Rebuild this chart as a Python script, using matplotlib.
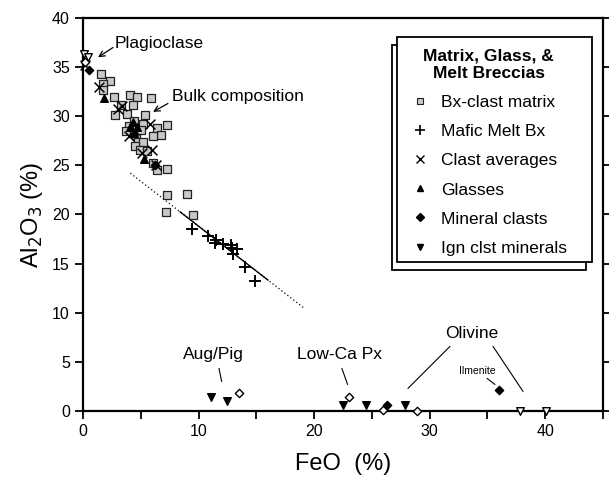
import numpy as np
import matplotlib
matplotlib.use("Agg")
import matplotlib.pyplot as plt
from matplotlib.lines import Line2D
from matplotlib.patches import Rectangle

plt.rcParams['font.family'] = ['Liberation Sans', 'DejaVu Sans']

# ---- data (FeO %, Al2O3 %) ----
bx_feo = [1.6, 2.3, 1.75, 1.7, 2.7, 4.1, 4.7, 5.9, 3.3, 4.35, 2.8, 3.8, 5.4, 5.2,
          6.4, 7.3, 6.75, 4.6, 4.8, 5.2, 4.5, 4.9, 5.5, 6.1, 6.4, 7.3, 7.3, 9.0,
          7.15, 9.5, 4.0, 3.7, 4.4, 5.0, 6.1]
bx_al = [34.3, 33.6, 33.3, 32.7, 32.0, 32.2, 32.0, 31.9, 31.1, 31.1, 30.1, 30.2, 30.1, 29.2,
         28.8, 29.1, 28.1, 28.1, 27.4, 27.4, 27.0, 26.6, 26.5, 25.2, 24.5, 24.6, 22.0, 22.1,
         20.3, 19.9, 29.0, 28.5, 29.5, 28.6, 28.0]

mafic_feo = [9.45, 10.85, 11.5, 11.4, 12.15, 12.8, 13.0, 13.35, 14.0, 14.9, 12.9]
mafic_al = [18.5, 17.8, 17.4, 17.1, 17.0, 16.9, 16.0, 16.5, 14.7, 13.2, 16.6]

clast_feo = [0.2, 3.4, 3.0, 5.8, 5.1, 6.0, 4.4, 4.0, 6.3, 1.4]
clast_al = [35.2, 31.0, 30.7, 29.2, 26.3, 26.6, 28.6, 28.0, 25.0, 33.0]

glass_feo = [1.8, 4.1, 4.4, 4.7, 4.3, 5.3]
glass_al = [31.9, 28.9, 28.3, 28.9, 29.4, 25.6]

mineral_feo = [0.5, 26.3, 36.0, 6.2]
mineral_al = [34.7, 0.6, 2.1, 25.0]
mineral_open_feo = [13.5, 23.0, 26.0, 28.9, 0.2]
mineral_open_al = [1.8, 1.4, 0.15, 0.0, 35.5]

ign_feo = [11.1, 12.5, 22.5, 24.5, 27.9]
ign_al = [1.45, 1.0, 0.6, 0.6, 0.6]
ign_open_feo = [37.8, 40.1, 0.1, 0.45]
ign_open_al = [0.0, 0.0, 36.3, 36.0]

# trend line through the mafic melt breccias
trend_solid_feo = [8.4, 16.0]
trend_solid_al = [20.27, 13.33]
trend_dot_feo = [4.1, 19.1]
trend_dot_al = [24.2, 10.5]

fig = plt.figure(figsize=(6.09, 4.78), dpi=100)
ax = fig.add_axes([83/609, 1-411/478, (603-83)/609, (411-18)/478])

ax.plot(trend_dot_feo, trend_dot_al, ls=(0, (1, 2)), color='k', lw=0.9)
ax.plot(trend_solid_feo, trend_solid_al, color='k', lw=1.0)
ax.plot(ign_open_feo[:2], ign_open_al[:2], ls='--', color='k', lw=0.7)

ax.scatter(bx_feo, bx_al, marker='s', s=32, facecolor='#c8c8c8', edgecolor='#222222',
           linewidth=0.9, zorder=3, clip_on=False)
ax.scatter(mafic_feo, mafic_al, marker='+', s=70, color='k', linewidth=1.4, zorder=3)
ax.scatter(clast_feo, clast_al, marker='x', s=50, color='k', linewidth=1.1, zorder=4,
           clip_on=False)
ax.scatter(glass_feo, glass_al, marker='^', s=30, color='k', zorder=4)
ax.scatter(mineral_feo, mineral_al, marker='D', s=18, color='k', zorder=4, clip_on=False)
ax.scatter(mineral_open_feo, mineral_open_al, marker='D', s=18, facecolor='white',
           edgecolor='k', linewidth=1.0, zorder=4, clip_on=False)
ax.scatter(ign_feo, ign_al, marker='v', s=30, color='k', zorder=4, clip_on=False)
ax.scatter(ign_open_feo, ign_open_al, marker='v', s=30, facecolor='white',
           edgecolor='k', linewidth=1.0, zorder=4, clip_on=False)

ax.set_xlim(0, 45)
ax.set_ylim(0, 40)
ax.set_xticks(np.arange(0, 46, 5))
ax.set_xticklabels(['0', '', '10', '', '20', '', '30', '', '40', ''])
ax.set_yticks(np.arange(0, 41, 5))
ax.tick_params(axis='both', direction='out', length=6, width=1.3, labelsize=11.5)
ax.tick_params(axis='y', right=True)
for sp in ax.spines.values():
    sp.set_linewidth(1.6)

ax.set_xlabel('FeO  (%)', fontsize=17, labelpad=10)
ax.set_ylabel('Al$_2$O$_3$ (%)', fontsize=17, labelpad=5)

arrow = dict(arrowstyle='->', color='k', lw=0.9, shrinkA=0, shrinkB=0)
line = dict(arrowstyle='-', color='k', lw=0.8, shrinkA=0, shrinkB=0)
fs = 12.5
ax.annotate('', xy=(1.3, 36.0), xytext=(2.6, 37.0), arrowprops=arrow)
ax.text(2.77, 37.4, 'Plagioclase', fontsize=fs, va='center', ha='left')
ax.annotate('', xy=(6.06, 30.45), xytext=(7.35, 31.3), arrowprops=arrow)
ax.text(7.7, 32.0, 'Bulk composition', fontsize=fs, va='center', ha='left')
ax.text(11.25, 5.77, 'Aug/Pig', fontsize=fs, va='center', ha='center')
ax.annotate('', xy=(12.0, 3.0), xytext=(11.77, 4.34), arrowprops=line)
ax.text(22.2, 5.77, 'Low-Ca Px', fontsize=fs, va='center', ha='center')
ax.annotate('', xy=(22.9, 2.7), xytext=(22.4, 4.34), arrowprops=line)
ax.text(33.6, 7.9, 'Olivine', fontsize=fs, va='center', ha='center')
ax.annotate('', xy=(28.12, 2.3), xytext=(31.76, 6.58), arrowprops=line)
ax.annotate('', xy=(38.08, 1.99), xytext=(35.48, 6.58), arrowprops=line)
ax.text(34.1, 4.03, 'Ilmenite', fontsize=7.5, va='center', ha='center')
ax.annotate('', xy=(35.65, 2.7), xytext=(34.96, 3.32), arrowprops=line)

# legend box with offset shadow
W, H = 609, 478
fig.add_artist(Rectangle((392/W, 1-270/H), 194/W, 225/H, transform=fig.transFigure,
                         facecolor='white', edgecolor='k', lw=1.3, zorder=5))
fig.add_artist(Rectangle((397/W, 1-262/H), 195/W, 225/H, transform=fig.transFigure,
                         facecolor='white', edgecolor='k', lw=1.3, zorder=6))

handles = [
    Line2D([], [], ls='', marker='s', ms=5, mfc='#c8c8c8', mec='#222222', mew=0.8),
    Line2D([], [], ls='', marker='+', ms=7, color='k', mew=1.2),
    Line2D([], [], ls='', marker='x', ms=6, color='k', mew=1.0),
    Line2D([], [], ls='', marker='^', ms=5, color='k'),
    Line2D([], [], ls='', marker='D', ms=4, color='k'),
    Line2D([], [], ls='', marker='v', ms=5, color='k'),
]
labels = ['Bx-clast matrix', 'Mafic Melt Bx', 'Clast averages', 'Glasses',
          'Mineral clasts', 'Ign clst minerals']
leg = fig.legend(handles, labels, loc='upper left', bbox_to_anchor=(403/W, 1-42/H),
                 frameon=False, fontsize=12.5, title='Matrix, Glass, &\nMelt Breccias',
                 title_fontproperties={'weight': 'bold', 'size': 12.5},
                 alignment='center', handletextpad=0.6, labelspacing=0.8,
                 handlelength=1.2, borderaxespad=0)
leg.get_title().set_multialignment('center')
leg.set_zorder(7)

fig.savefig('out.png', dpi=100)
